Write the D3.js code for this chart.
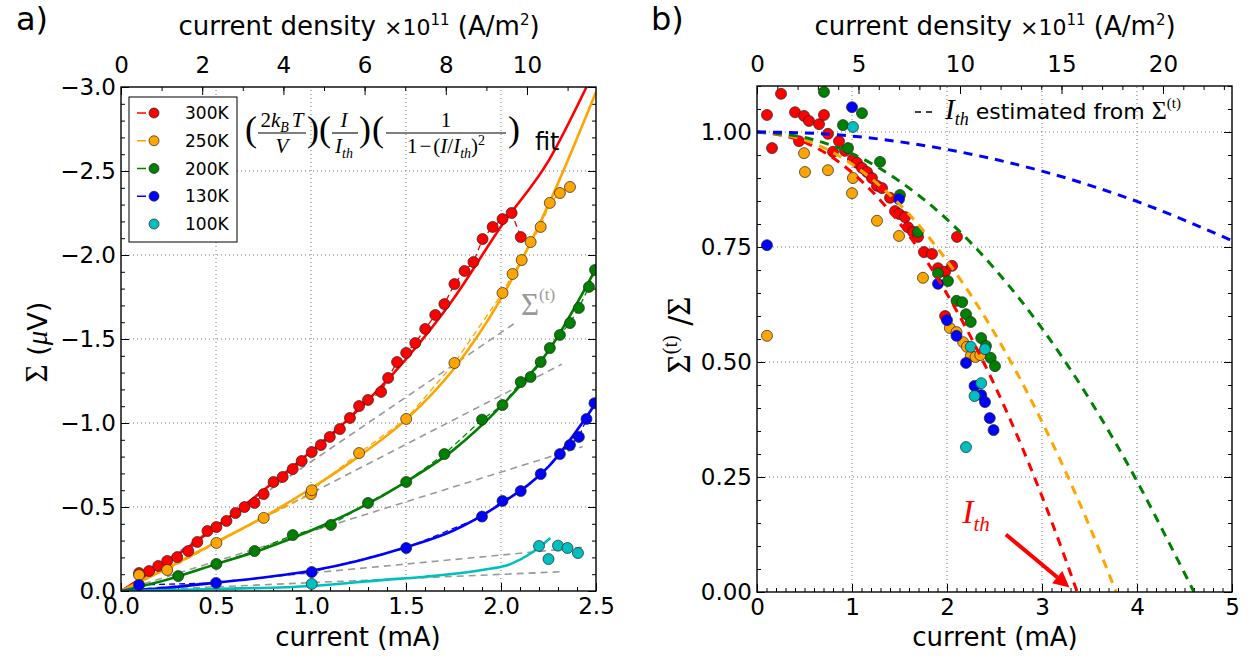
<!DOCTYPE html>
<html><head><meta charset="utf-8">
<script src="https://cdn.jsdelivr.net/npm/d3@7"></script>
<style>body{margin:0;background:#fff}svg{display:block}</style>
</head><body><svg id="c" width="1255" height="668"></svg>
<script>
// ---------------- DATA ----------------
const temps = ["300K","250K","200K","130K","100K"];
const colors = ["#ff0000","#ffa500","#008000","#0000ff","#00bfbf"];
const densityPerMA = 4.68; // 1e11 A/m^2 per mA

// panel a) measured Σ (μV) vs current (mA)
const sigma300 = [[0.095,-0.107],[0.148,-0.119],[0.196,-0.149],[0.243,-0.179],[0.296,-0.202],[0.354,-0.238],[0.402,-0.292],[0.455,-0.357],[0.502,-0.381],[0.555,-0.417],[0.603,-0.464],[0.650,-0.500],[0.703,-0.524],[0.751,-0.577],[0.803,-0.649],[0.851,-0.679],[0.904,-0.726],[0.951,-0.774],[1.004,-0.827],[1.052,-0.869],[1.099,-0.917],[1.152,-0.964],[1.205,-1.030],[1.253,-1.101],[1.300,-1.137],[1.369,-1.185],[1.406,-1.268],[1.453,-1.363],[1.501,-1.417],[1.549,-1.476],[1.601,-1.560],[1.654,-1.643],[1.702,-1.708],[1.755,-1.827],[1.808,-1.905],[1.855,-1.958],[1.903,-2.095],[1.956,-2.167],[2.008,-2.214],[2.056,-2.250],[2.104,-2.107]];
const sigma250 = [[0.095,-0.095],[0.243,-0.125],[0.502,-0.286],[0.751,-0.435],[1.000,-0.577],[1.004,-0.600],[1.253,-0.821],[1.501,-1.024],[1.755,-1.357],[2.008,-1.774],[2.061,-1.887],[2.109,-1.970],[2.156,-2.077],[2.209,-2.167],[2.257,-2.310],[2.310,-2.369],[2.363,-2.405]];
const sigma200 = [[0.301,-0.089],[0.502,-0.161],[0.703,-0.238],[0.904,-0.333],[1.105,-0.393],[1.300,-0.524],[1.501,-0.649],[1.702,-0.815],[1.900,-1.020],[2.008,-1.107],[2.104,-1.244],[2.156,-1.274],[2.209,-1.363],[2.257,-1.446],[2.310,-1.524],[2.363,-1.595],[2.410,-1.685],[2.463,-1.810],[2.495,-1.911]];
const sigma130 = [[0.095,-0.036],[0.500,-0.048],[1.004,-0.113],[1.501,-0.256],[1.900,-0.443],[2.008,-0.536],[2.104,-0.595],[2.209,-0.696],[2.310,-0.815],[2.363,-0.869],[2.410,-0.917],[2.450,-1.024],[2.492,-1.118]];
const sigma100 = [[1.004,-0.042],[2.200,-0.268],[2.250,-0.190],[2.300,-0.270],[2.350,-0.256],[2.405,-0.226]];

// panel a) fits
const fit300 = [[0,0],[0.25,-0.18],[0.5,-0.38],[0.75,-0.6],[1.0,-0.83],[1.25,-1.08],[1.5,-1.38],[1.75,-1.74],[2.0,-2.17],[2.25,-2.56],[2.45,-3.0]];
const fit250 = [[0,0],[0.25,-0.14],[0.5,-0.29],[0.75,-0.44],[1.0,-0.61],[1.25,-0.8],[1.5,-1.02],[1.75,-1.32],[2.0,-1.74],[2.25,-2.3],[2.5,-2.97]];
const fit200 = [[0,0],[0.25,-0.07],[0.5,-0.16],[0.75,-0.25],[1.0,-0.36],[1.25,-0.49],[1.5,-0.65],[1.75,-0.84],[2.0,-1.1],[2.25,-1.43],[2.5,-1.92]];
const fit130 = [[0,0],[0.25,-0.02],[0.5,-0.05],[0.75,-0.08],[1.0,-0.12],[1.25,-0.18],[1.5,-0.26],[1.75,-0.36],[2.0,-0.52],[2.25,-0.74],[2.5,-1.12]];
const fit100 = [[0,0],[0.5,-0.012],[1.0,-0.03],[1.37,-0.065],[1.6,-0.085],[1.9,-0.125],[2.05,-0.16],[2.16,-0.226],[2.26,-0.315]];
// panel a) Σ^(t) linear lines (start, end)
const sigmaT = [[[0,0],[2.08,-1.60]],[[0,0],[2.32,-1.35]],[[0,0],[2.43,-0.86]],[[0,0],[2.43,-0.26]],[[0,0],[2.32,-0.115]]];

// panel b) Σ^(t)/Σ vs current (mA)
const ratio300 = [[0.105,1.037],[0.158,0.965],[0.253,1.083],[0.400,1.043],[0.442,0.980],[0.495,1.035],[0.547,1.024],[0.653,1.017],[0.705,1.037],[0.747,0.996],[0.800,0.957],[0.863,0.980],[0.926,0.959],[1.010,0.941],[1.053,0.933],[1.105,0.922],[1.158,0.913],[1.210,0.900],[1.263,0.883],[1.316,0.878],[1.400,0.857],[1.453,0.828],[1.495,0.822],[1.558,0.815],[1.589,0.793],[1.642,0.783],[1.695,0.772],[1.758,0.739],[1.842,0.735],[1.905,0.704],[1.979,0.696],[2.053,0.709],[2.105,0.772],[1.980,0.600]];
const ratio250 = [[0.105,0.557],[0.495,0.954],[0.505,0.913],[0.747,0.917],[1.000,0.867],[1.010,0.900],[1.263,0.807],[1.495,0.774],[1.747,0.683],[2.030,0.574],[2.100,0.565],[2.170,0.543],[2.210,0.533],[2.250,0.513],[2.300,0.511],[2.350,0.515]];
const ratio200 = [[0.705,1.087],[0.905,1.015],[0.958,0.965],[1.105,1.041],[1.295,0.935],[1.505,0.863],[1.695,0.783],[1.905,0.693],[2.010,0.676],[2.100,0.633],[2.160,0.630],[2.200,0.604],[2.250,0.587],[2.360,0.552],[2.410,0.535],[2.460,0.509],[2.505,0.491]];
const ratio130 = [[0.105,0.754],[1.000,1.054],[1.495,0.854],[1.905,0.670],[2.000,0.591],[2.100,0.557],[2.200,0.498],[2.290,0.448],[2.360,0.428],[2.400,0.413],[2.450,0.378],[2.490,0.352]];
const ratio100 = [[1.010,1.011],[2.200,0.315],[2.250,0.533],[2.290,0.426],[2.360,0.454],[2.400,0.528]];
// panel b) dashed curves (I_th estimated from Σ^(t))
const est300 = [[0,1.0],[0.5,0.978],[1.0,0.912],[1.5,0.802],[2.0,0.648],[2.5,0.45],[3.0,0.208],[3.25,0.07],[3.37,0.0]];
const est250 = [[0,1.0],[0.5,0.983],[1.0,0.93],[1.5,0.843],[2.0,0.72],[2.5,0.563],[3.0,0.37],[3.5,0.143],[3.78,0.0]];
const est200 = [[0,1.0],[0.5,0.988],[1.0,0.953],[1.5,0.893],[2.0,0.81],[2.5,0.703],[3.0,0.573],[3.5,0.419],[4.0,0.241],[4.3,0.122],[4.6,0.0]];
const est130 = [[0,1.0],[0.5,0.998],[1.0,0.991],[2.0,0.962],[3.0,0.915],[4.0,0.849],[5.0,0.764]];

const tickA_x = [0,0.5,1.0,1.5,2.0,2.5];
const tickA_y = [0,-0.5,-1.0,-1.5,-2.0,-2.5,-3.0];
const tickA_top = [0,2,4,6,8,10];
const tickB_x = [0,1,2,3,4,5];
const tickB_y = [0,0.25,0.5,0.75,1.0];
const tickB_top = [0,5,10,15,20];

// ---------------- DRAW ----------------
const svg = d3.select("#c");
svg.append("rect").attr("width",1255).attr("height",668).attr("fill","#fff");
const SANS = "DejaVu Sans", SERIF = "Liberation Serif";

const xA = d3.scaleLinear().domain([0,2.5]).range([121,596]);
const yA = d3.scaleLinear().domain([0,-3]).range([591,87]);
const xAt = d3.scaleLinear().domain([0,2.5*densityPerMA]).range([121,596]);
const xB = d3.scaleLinear().domain([0,5]).range([757,1232]);
const yB = d3.scaleLinear().domain([0,1.1]).range([592,86]);
const xBt = d3.scaleLinear().domain([0,5*densityPerMA]).range([757,1232]);

function panel(x, y, xt, xticks, yticks, topticks, xfmt, yfmt, xminor, yminor, topminor) {
  const g = svg.append("g");
  const [X0,X1] = x.range(), [Y0,Y1] = y.range();
  const grid = g.append("g").attr("stroke","#666").attr("stroke-width",0.9).attr("stroke-dasharray","1,3");
  xticks.filter(v=>x(v)>X0+1 && x(v)<X1-1).forEach(v=>grid.append("line").attr("x1",x(v)).attr("x2",x(v)).attr("y1",Y0).attr("y2",Y1));
  yticks.filter(v=>y(v)<Y0-1 && y(v)>Y1+1).forEach(v=>grid.append("line").attr("y1",y(v)).attr("y2",y(v)).attr("x1",X0).attr("x2",X1));
  const ax = (sel)=>{ sel.select(".domain").remove(); sel.selectAll("line").attr("stroke","#000"); sel.selectAll("text").style("font-family",SANS).style("font-size","23px").attr("fill","#000"); };
  g.append("g").attr("transform",`translate(0,${Y0})`).call(d3.axisBottom(x).tickValues(xticks).tickFormat(d3.format(xfmt)).tickSize(-8).tickPadding(7)).call(ax);
  g.append("g").attr("transform",`translate(0,${Y0})`).call(d3.axisBottom(x).tickValues(xminor).tickFormat("").tickSize(-4)).call(ax);
  g.append("g").attr("transform",`translate(${X0},0)`).call(d3.axisLeft(y).tickValues(yticks).tickFormat(d3.format(yfmt)).tickSize(-8).tickPadding(5)).call(ax);
  g.append("g").attr("transform",`translate(${X0},0)`).call(d3.axisLeft(y).tickValues(yminor).tickFormat("").tickSize(-4)).call(ax);
  g.append("g").attr("transform",`translate(${X1},0)`).call(d3.axisRight(y).tickValues(yticks).tickFormat("").tickSize(-8)).call(ax);
  g.append("g").attr("transform",`translate(${X1},0)`).call(d3.axisRight(y).tickValues(yminor).tickFormat("").tickSize(-4)).call(ax);
  g.append("g").attr("transform",`translate(0,${Y1})`).call(d3.axisTop(xt).tickValues(topticks).tickFormat(d3.format("d")).tickSize(-8).tickPadding(14)).call(ax);
  g.append("g").attr("transform",`translate(0,${Y1})`).call(d3.axisTop(xt).tickValues(topminor).tickFormat("").tickSize(-4)).call(ax);
  return g;
}

const rng = (a,b,s)=>d3.range(Math.round(a/s),Math.round(b/s)+1).map(i=>+(i*s).toFixed(4));
panel(xA,yA,xAt,tickA_x,tickA_y,tickA_top,".1f",".1f",rng(0,2.5,0.1),rng(-3,0,0.1),rng(0,11,1));
panel(xB,yB,xBt,tickB_x,tickB_y,tickB_top,"d",".2f",rng(0,5,0.1),rng(0,1.1,0.05),rng(0,23,1));

const defs = svg.append("defs");
defs.append("clipPath").attr("id","clipA").append("rect").attr("x",121).attr("y",87).attr("width",475).attr("height",504);
defs.append("clipPath").attr("id","clipB").append("rect").attr("x",757).attr("y",86).attr("width",475).attr("height",506);

// ---- panel a content ----
const pa = svg.append("g").attr("clip-path","url(#clipA)");
const lineA = d3.line().x(d=>xA(d[0])).y(d=>yA(d[1]));
const curveA = d3.line().x(d=>xA(d[0])).y(d=>yA(d[1])).curve(d3.curveMonotoneX);
sigmaT.forEach(s=>pa.append("path").attr("d",lineA(s)).attr("fill","none").attr("stroke","#999").attr("stroke-width",1.6).attr("stroke-dasharray","7,5"));
const dataA = [sigma300,sigma250,sigma200,sigma130,sigma100];
const fitA = [fit300,fit250,fit200,fit130,fit100];
dataA.forEach((d,i)=>{ if(i<4) pa.append("path").attr("d",lineA(d)).attr("fill","none").attr("stroke",colors[i]).attr("stroke-width",1.3).attr("stroke-dasharray","6,4"); });
fitA.forEach((d,i)=>pa.append("path").attr("d",curveA(d)).attr("fill","none").attr("stroke",colors[i]).attr("stroke-width",2.6));
dataA.forEach((d,i)=>pa.append("g").selectAll("circle").data(d).join("circle").attr("cx",p=>xA(p[0])).attr("cy",p=>yA(p[1])).attr("r",5.5).attr("fill",colors[i]).attr("stroke","#222").attr("stroke-width",0.7));

svg.append("rect").attr("x",121).attr("y",87).attr("width",475).attr("height",504).attr("fill","none").attr("stroke","#000").attr("stroke-width",1.4);

// legend A
const lg = svg.append("g");
lg.append("rect").attr("x",129).attr("y",97).attr("width",108).attr("height",145).attr("fill","#fff").attr("stroke","#000").attr("stroke-width",1);
temps.forEach((t,i)=>{
  const yy = 113 + i*27.75;
  if(i<4) lg.append("line").attr("x1",137).attr("x2",146).attr("y1",yy).attr("y2",yy).attr("stroke",colors[i]).attr("stroke-width",1.5);
  lg.append("circle").attr("cx",154).attr("cy",yy).attr("r",5).attr("fill",colors[i]).attr("stroke","#222").attr("stroke-width",0.7);
  lg.append("text").attr("x",185).attr("y",yy+6).text(t).style("font-family",SANS).style("font-size","17px");
});

// formula annotation
function mtext(x,y,parts,anchor,size){
  const t = svg.append("text").attr("x",x).attr("y",y).attr("text-anchor",anchor||"start").style("font-family",SERIF).style("font-size",(size||21)+"px").attr("fill","#000");
  parts.forEach(p=>{ const s=t.append("tspan").text(p.t); if(p.f) s.style("font-family",p.f); if(p.i) s.style("font-style","italic"); if(p.s) s.style("font-size",p.s+"px"); if(p.dy) s.attr("dy",p.dy); if(p.dx) s.attr("dx",p.dx); if(p.c) s.attr("fill",p.c); });
  return t;
}
function bar(x1,x2,y){ svg.append("line").attr("x1",x1).attr("x2",x2).attr("y1",y).attr("y2",y).attr("stroke","#000").attr("stroke-width",1.1); }
function paren(x,ch){ svg.append("text").attr("x",x).attr("y",141).text(ch).style("font-family",SERIF).style("font-size","36px").style("font-weight","300").attr("fill","#000"); }
paren(245,"(");
mtext(282,127,[{t:"2"},{t:"k",i:1},{t:"B",i:1,s:14,dy:5},{t:"T",i:1,dy:-5,dx:3}],"middle");
bar(258,306,133);
mtext(282,153,[{t:"V",i:1}],"middle");
paren(307,")");
paren(319,"(");
mtext(344,127,[{t:"I",i:1}],"middle");
bar(332,358,133);
mtext(344,153,[{t:"I",i:1},{t:"th",i:1,s:14,dy:5}],"middle");
paren(359,")");
paren(372,"(");
mtext(446,127,[{t:"1"}],"middle");
bar(386,506,133);
mtext(446,153,[{t:"1"},{t:"−",dx:2},{t:"(",dx:2},{t:"I",i:1},{t:"/"},{t:"I",i:1},{t:"th",i:1,s:14,dy:5},{t:")",dy:-5},{t:"2",s:14,dy:-8}],"middle");
paren(508,")");
mtext(535,150,[{t:"fit",f:SANS}],"start",24);
// Σ(t) label
mtext(521,315,[{t:"Σ",c:"#999"},{t:"(t)",s:17,dy:-15,c:"#999"}],"start",31);

// ---- panel b content ----
const pb = svg.append("g").attr("clip-path","url(#clipB)");
const curveB = d3.line().x(d=>xB(d[0])).y(d=>yB(d[1])).curve(d3.curveMonotoneX);
const dataB = [ratio300,ratio250,ratio200,ratio130,ratio100];
dataB.forEach((d,i)=>pb.append("g").selectAll("circle").data(d).join("circle").attr("cx",p=>xB(p[0])).attr("cy",p=>yB(p[1])).attr("r",5.5).attr("fill",colors[i]).attr("stroke","#222").attr("stroke-width",0.7));
[est300,est250,est200,est130].forEach((d,i)=>pb.append("path").attr("d",curveB(d)).attr("fill","none").attr("stroke",colors[i]).attr("stroke-width",3).attr("stroke-dasharray","9,7"));
svg.append("rect").attr("x",757).attr("y",86).attr("width",475).attr("height",506).attr("fill","none").attr("stroke","#000").attr("stroke-width",1.4);

// legend B
svg.append("line").attr("x1",915).attr("x2",936).attr("y1",112).attr("y2",112).attr("stroke","#000").attr("stroke-width",1.5).attr("stroke-dasharray","6,5");
mtext(945,119,[{t:"I",i:1,s:29},{t:"th",i:1,s:18,dy:6},{t:" estimated from ",f:SANS,s:22,dy:-6},{t:"Σ",s:26},{t:"(t)",s:15,dy:-11}],"start",26);

// I_th annotation with arrow
mtext(xB(2.16),yB(0.15),[{t:"I",i:1,c:"#ff0000"},{t:"th",i:1,s:21,dy:8,c:"#ff0000"}],"start",34);
const ax0=xB(2.62), ay0=yB(0.125), ax1=xB(3.29), ay1=yB(0.01);
const ang = Math.atan2(ay1-ay0, ax1-ax0);
const hl=16, hw=8;
const bx = ax1 - hl*Math.cos(ang), by = ay1 - hl*Math.sin(ang);
svg.append("line").attr("x1",ax0).attr("y1",ay0).attr("x2",bx).attr("y2",by).attr("stroke","#ff0000").attr("stroke-width",4);
svg.append("path").attr("d",`M${ax1},${ay1}L${bx+hw*Math.sin(ang)},${by-hw*Math.cos(ang)}L${bx-hw*Math.sin(ang)},${by+hw*Math.cos(ang)}Z`).attr("fill","#ff0000");

// ---- axis titles ----
function label(x,y,parts,rot,size){
  const t = svg.append("text").attr("transform",`translate(${x},${y})`+(rot?` rotate(${rot})`:"")).attr("text-anchor","middle").style("font-family",SANS).style("font-size",(size||26)+"px").attr("fill","#000");
  parts.forEach(p=>{ const s=t.append("tspan").text(p.t); if(p.f) s.style("font-family",p.f); if(p.i) s.style("font-style","italic"); if(p.s) s.style("font-size",p.s+"px"); if(p.dy) s.attr("dy",p.dy); if(p.dx) s.attr("dx",p.dx); });
}
label(358,646,[{t:"current (mA)"}]);
label(995,646,[{t:"current (mA)"}]);
const topLab = [{t:"current density "},{t:"×10",s:22},{t:"11",s:15,dy:-10},{t:" (A/m",dy:10},{t:"2",s:15,dy:-10},{t:")",dy:10}];
label(359,35,topLab);
label(995,35,topLab);
label(47,342,[{t:"Σ",f:SERIF,s:31},{t:" ("},{t:"μ",f:SERIF,i:1,s:29},{t:"V)"}],-90,27);
label(690,335,[{t:"Σ",f:SERIF,s:33},{t:"(t)",f:SERIF,s:20,dy:-13},{t:" /",dy:13},{t:"Σ",f:SERIF,s:33}],-90,30);
svg.append("text").attr("x",16).attr("y",30).text("a)").style("font-family",SANS).style("font-size","32px");
svg.append("text").attr("x",651).attr("y",30).text("b)").style("font-family",SANS).style("font-size","32px");
</script></body></html>
